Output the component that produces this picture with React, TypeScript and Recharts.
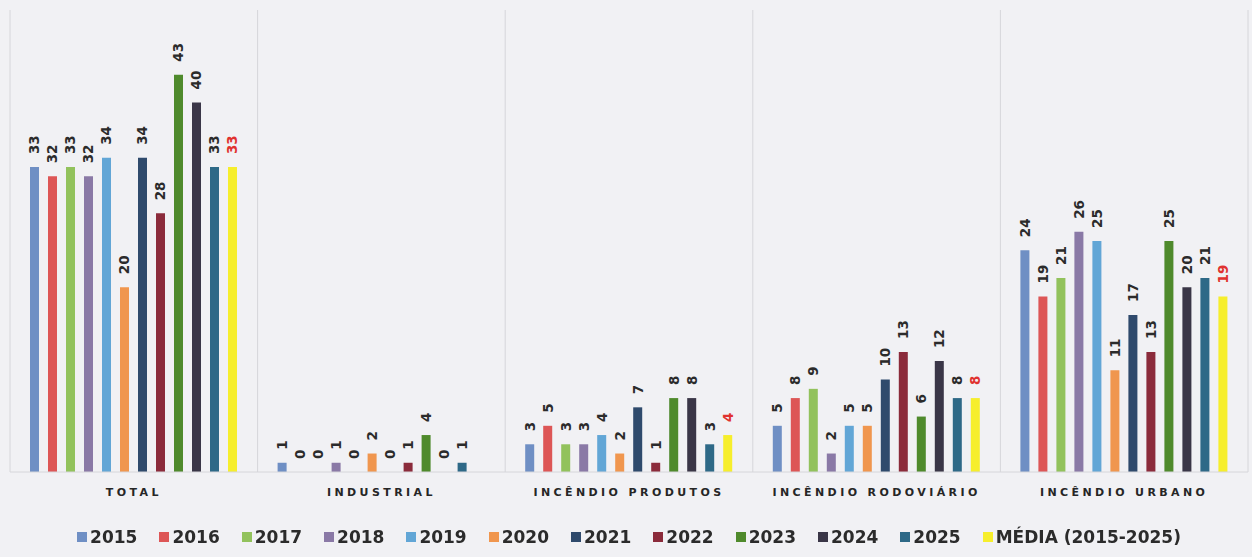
import { BarChart, Bar, XAxis, YAxis, CartesianGrid, Legend, LabelList } from "recharts";

const categories = ["TOTAL", "INDUSTRIAL", "INCÊNDIO PRODUTOS", "INCÊNDIO RODOVIÁRIO", "INCÊNDIO URBANO"];

const y2015 = [33, 1, 3, 5, 24];
const y2016 = [32, 0, 5, 8, 19];
const y2017 = [33, 0, 3, 9, 21];
const y2018 = [32, 1, 3, 2, 26];
const y2019 = [34, 0, 4, 5, 25];
const y2020 = [20, 2, 2, 5, 11];
const y2021 = [34, 0, 7, 10, 17];
const y2022 = [28, 1, 1, 13, 13];
const y2023 = [43, 4, 8, 6, 25];
const y2024 = [40, 0, 8, 12, 20];
const y2025 = [33, 1, 3, 8, 21];
const media = [33, null, 4, 8, 19];

const series = [
  { key: "y2015", name: "2015", values: y2015, color: "#6f8fc4" },
  { key: "y2016", name: "2016", values: y2016, color: "#dd5656" },
  { key: "y2017", name: "2017", values: y2017, color: "#92c25c" },
  { key: "y2018", name: "2018", values: y2018, color: "#8a79a6" },
  { key: "y2019", name: "2019", values: y2019, color: "#62a6d6" },
  { key: "y2020", name: "2020", values: y2020, color: "#f0964e" },
  { key: "y2021", name: "2021", values: y2021, color: "#2f4a6c" },
  { key: "y2022", name: "2022", values: y2022, color: "#8b2b3b" },
  { key: "y2023", name: "2023", values: y2023, color: "#4f8a2c" },
  { key: "y2024", name: "2024", values: y2024, color: "#3a3647" },
  { key: "y2025", name: "2025", values: y2025, color: "#2e6987" },
  { key: "media", name: "MÉDIA (2015-2025)", values: media, color: "#f6ee2c" },
];

const data = categories.map((cat, i) => {
  const row: Record<string, string | number | null> = { cat };
  series.forEach((s) => (row[s.key] = s.values[i]));
  return row;
});

const FONT = "'DejaVu Sans', sans-serif";

// value labels sit above each bar, turned to read bottom-to-top
function makeLabel(color: string) {
  return (props: any) => {
    const { x, y, width, value } = props;
    if (value === null || value === undefined) return null;
    const cx = x + width / 2;
    const ty = y - 13;
    return (
      <text
        x={cx}
        y={ty}
        transform={`rotate(-90 ${cx} ${ty})`}
        textAnchor="start"
        dominantBaseline="central"
        fontFamily={FONT}
        fontWeight={700}
        fontSize={13.5}
        fill={color}
      >
        {value}
      </text>
    );
  };
}

function CategoryTick({ x, y, payload }: any) {
  return (
    <text
      x={x}
      y={y + 16}
      textAnchor="middle"
      fontFamily={FONT}
      fontWeight={700}
      fontSize={11}
      letterSpacing={3.4}
      fill="#262626"
    >
      {payload.value}
    </text>
  );
}

function LegendRow() {
  return (
    <div
      style={{
        display: "flex",
        justifyContent: "center",
        alignItems: "center",
        gap: 22,
        height: 45,
        paddingTop: 2,
        fontFamily: FONT,
        fontWeight: 700,
        fontSize: 17,
        color: "#2b2b2b",
      }}
    >
      {series.map((s) => (
        <div key={s.key} style={{ display: "flex", alignItems: "center", gap: 3 }}>
          <span style={{ width: 10, height: 10, background: s.color, display: "inline-block" }} />
          <span>{s.name}</span>
        </div>
      ))}
    </div>
  );
}

export default function App() {
  const W = 1252;
  const H = 557;
  return (
    <div style={{ position: "fixed", left: 0, top: 0, width: W, height: H, background: "#f1f1f4" }}>
      <BarChart
        width={W}
        height={H}
        data={data}
        margin={{ top: 10, right: 4, left: 10, bottom: 0 }}
        barSize={9}
        barGap={9}
      >
        <CartesianGrid
          horizontal={false}
          stroke="#d6d6da"
          verticalCoordinatesGenerator={({ offset }: any) =>
            categories.map((_, i) => offset.left + (offset.width * i) / categories.length).concat(offset.left + offset.width)
          }
        />
        <XAxis
          dataKey="cat"
          height={40}
          tick={<CategoryTick />}
          tickLine={false}
          axisLine={{ stroke: "#d6d6da" }}
          interval={0}
        />
        <YAxis hide domain={[0, 50]} />
        <Legend verticalAlign="bottom" height={45} content={() => <LegendRow />} />
        {series.map((s) => (
          <Bar
            key={s.key}
            dataKey={s.key}
            name={s.name}
            fill={s.color}
            minPointSize={0.01}
            isAnimationActive={false}
          >
            <LabelList dataKey={s.key} content={makeLabel(s.key === "media" ? "#e0322f" : "#2b2b2b")} />
          </Bar>
        ))}
      </BarChart>
    </div>
  );
}
